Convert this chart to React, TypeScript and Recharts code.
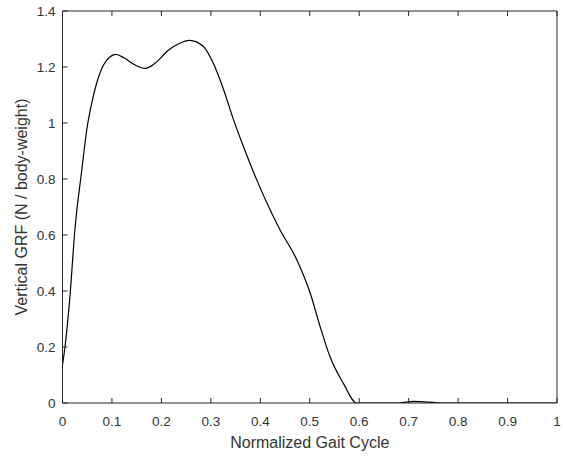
import { LineChart, Line, XAxis, YAxis } from "recharts";

// normalized gait cycle (x) and vertical GRF (y)
const gaitCycle = [
  0, 0.005, 0.015, 0.025, 0.039, 0.049, 0.059, 0.069, 0.083, 0.095, 0.108, 0.125, 0.147,
  0.167, 0.187, 0.214, 0.235, 0.257, 0.285, 0.305, 0.326, 0.346, 0.366, 0.393, 0.42,
  0.44, 0.474, 0.501, 0.521, 0.541, 0.568, 0.595, 0.65, 0.68, 0.71, 0.77, 0.85, 0.9, 1.0,
];
const grf = [
  0.135, 0.2, 0.38, 0.618, 0.832, 0.975, 1.07, 1.142, 1.207, 1.235, 1.245, 1.232, 1.207,
  1.195, 1.213, 1.26, 1.283, 1.295, 1.273, 1.213, 1.118, 1.011, 0.915, 0.796, 0.689,
  0.618, 0.511, 0.392, 0.273, 0.165, 0.07, 0, 0, 0, 0.006, 0, 0, 0, 0,
];
const xTicks = [0, 0.1, 0.2, 0.3, 0.4, 0.5, 0.6, 0.7, 0.8, 0.9, 1];
const yTicks = [0, 0.2, 0.4, 0.6, 0.8, 1, 1.2, 1.4];

const data = gaitCycle.map((x, i) => ({ x, y: grf[i] }));

const axisColor = "#262626";
const font = "Arial, 'Liberation Sans', Helvetica, sans-serif";
const tickStyle = { fontSize: 13.5, fill: "#333", fontFamily: font };
const labelStyle = { fontSize: 16, fill: "#333", fontFamily: font };
const fmt = (v: number) => String(Math.round(v * 10) / 10);
const blank = () => "";

const App = () => {
  return (
    <div style={{ position: "absolute", left: 0, top: 0, background: "#fff" }}>
      <LineChart
        width={563}
        height={457}
        data={data}
        margin={{ top: 10, right: 5, bottom: 0, left: 22.5 }}
      >
        {/* bottom axis */}
        <XAxis
          xAxisId="b"
          dataKey="x"
          type="number"
          domain={[0, 1]}
          ticks={xTicks}
          tickFormatter={fmt}
          interval={0}
          tickSize={-5}
          tickMargin={18}
          height={54}
          stroke={axisColor}
          tick={tickStyle}
          label={{
            value: "Normalized Gait Cycle",
            position: "insideBottom",
            offset: 9,
            style: labelStyle,
          }}
        />
        {/* top axis, ticks only */}
        <XAxis
          xAxisId="t"
          orientation="top"
          dataKey="x"
          type="number"
          domain={[0, 1]}
          ticks={xTicks}
          tickFormatter={blank}
          interval={0}
          tickSize={-5}
          height={1}
          stroke={axisColor}
        />
        {/* left axis */}
        <YAxis
          yAxisId="l"
          type="number"
          domain={[0, 1.4]}
          ticks={yTicks}
          tickFormatter={fmt}
          interval={0}
          allowDataOverflow
          tickSize={-5}
          tickMargin={12}
          width={40}
          stroke={axisColor}
          tick={tickStyle}
          label={{
            value: "Vertical GRF (N / body-weight)",
            angle: -90,
            position: "insideLeft",
            offset: -1,
            style: { ...labelStyle, textAnchor: "middle" },
          }}
        />
        {/* right axis, ticks only */}
        <YAxis
          yAxisId="r"
          orientation="right"
          type="number"
          domain={[0, 1.4]}
          ticks={yTicks}
          tickFormatter={blank}
          interval={0}
          tickSize={-5}
          width={1}
          stroke={axisColor}
        />
        <Line
          xAxisId="b"
          yAxisId="l"
          type="monotone"
          dataKey="y"
          stroke="#000"
          strokeWidth={1.2}
          dot={false}
          isAnimationActive={false}
        />
      </LineChart>
    </div>
  );
};

export default App;
